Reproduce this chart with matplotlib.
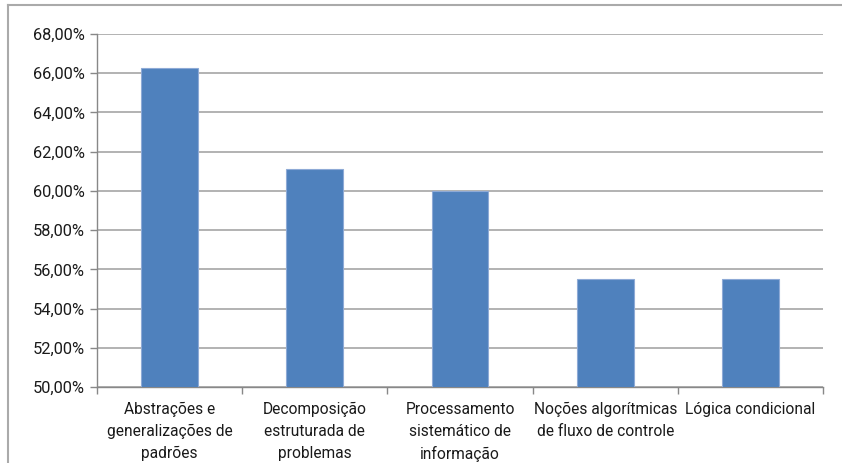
import matplotlib.pyplot as plt
from matplotlib.lines import Line2D
from matplotlib.ticker import FuncFormatter, MultipleLocator

categorias = [
    "Abstrações e\ngeneralizações de\npadrões",
    "Decomposição\nestruturada de\nproblemas",
    "Processamento\nsistemático de\ninformação",
    "Noções algorítmicas\nde fluxo de controle",
    "Lógica condicional",
]
percentuais = [66.25, 61.1, 60.0, 55.5, 55.5]

plt.rcParams['font.family'] = ['Roboto', 'DejaVu Sans']

fig = plt.figure(figsize=(8.42, 4.63), dpi=100)
ax = fig.add_axes([97 / 842, 1 - 387 / 463, 726 / 842, 353 / 463])

x = list(range(len(categorias)))
ax.bar(x, percentuais, width=0.39, color='#4F81BD', edgecolor='#8EAAD6',
       linewidth=0.8, zorder=3)

ax.set_xlim(-0.5, len(categorias) - 0.5)
ax.set_ylim(50, 68)
ax.yaxis.set_major_locator(MultipleLocator(2))
ax.yaxis.set_major_formatter(FuncFormatter(lambda v, p: f"{v:.2f}%".replace('.', ',')))
ax.grid(axis='y', color='#A6A6A6', linewidth=1.2, zorder=0)

# category labels centred between boundary ticks
ax.set_xticks(x)
ax.set_xticklabels(categorias, fontsize=11.2, color='#1a1a1a', linespacing=1.55)
ax.tick_params(axis='x', length=0, pad=11)
ax.set_xticks([i - 0.5 for i in range(len(categorias) + 1)], minor=True)
ax.tick_params(axis='x', which='minor', length=5, color='#888888', width=1)
ax.tick_params(axis='y', length=5, color='#888888', width=1, labelsize=11.8,
               labelcolor='#1a1a1a', pad=4)

for side in ['top', 'right']:
    ax.spines[side].set_visible(False)
ax.spines['left'].set_color('#888888')
ax.spines['bottom'].set_color('#888888')
ax.spines['left'].set_linewidth(1)
ax.spines['bottom'].set_linewidth(1)

# outer chart frame
fig.add_artist(Line2D([8 / 842, 8 / 842], [0, 1 - 5 / 463], color='#AAAAAA', lw=1.5))
fig.add_artist(Line2D([8 / 842, 1], [1 - 5 / 463, 1 - 5 / 463], color='#AAAAAA', lw=1.5))

fig.savefig('out.png', dpi=100)
